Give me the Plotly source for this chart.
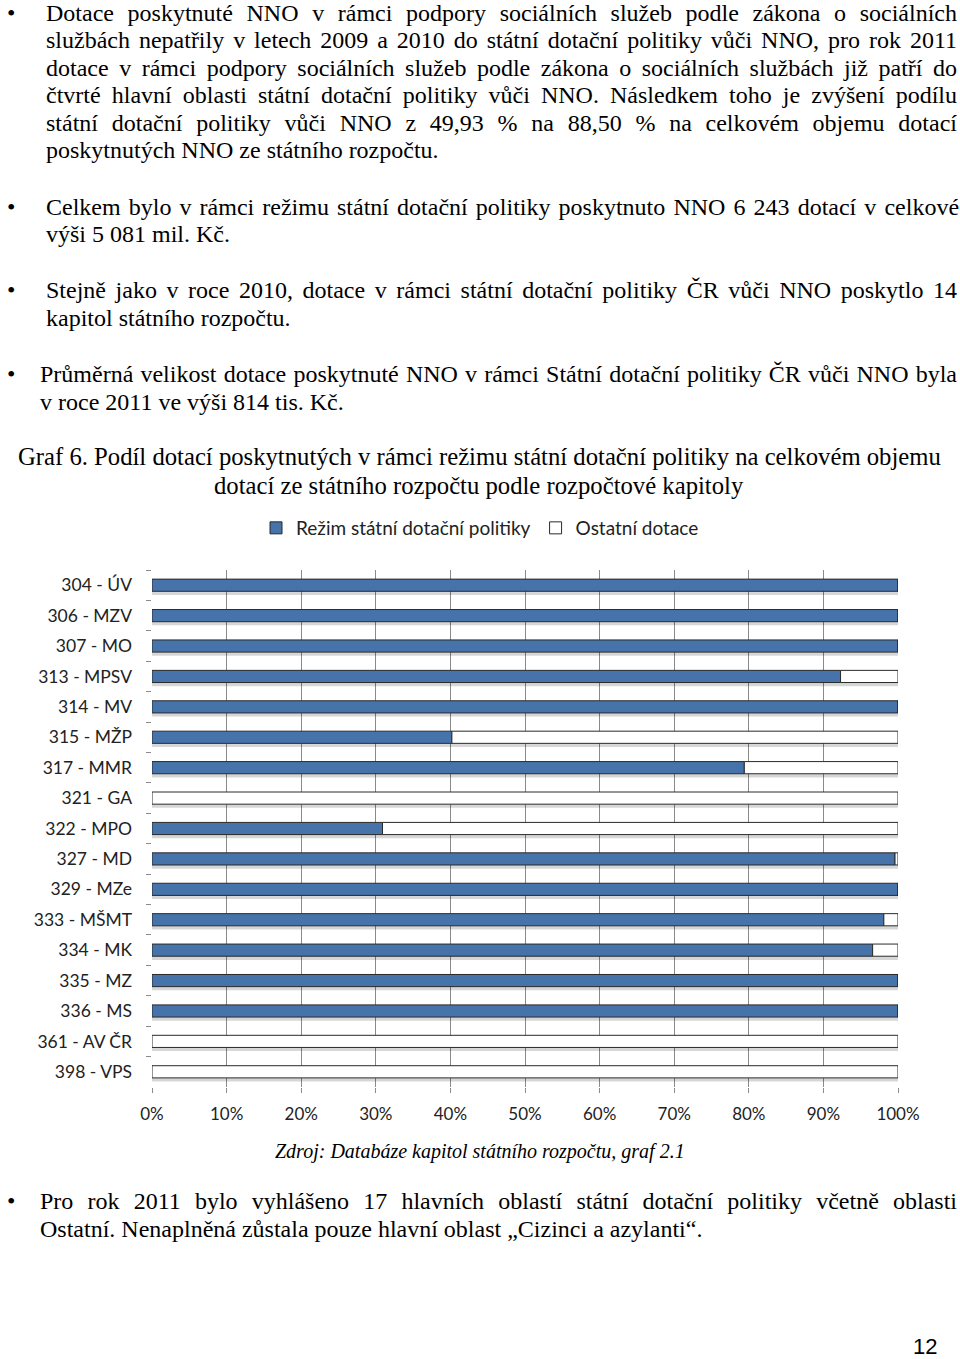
import json
import plotly.graph_objects as go

# ---- data ----
categories = ["304 - ÚV", "306 - MZV", "307 - MO", "313 - MPSV", "314 - MV", "315 - MŽP",
              "317 - MMR", "321 - GA", "322 - MPO", "327 - MD", "329 - MZe", "333 - MŠMT",
              "334 - MK", "335 - MZ", "336 - MS", "361 - AV ČR", "398 - VPS"]
rezim = [100, 100, 100, 92.3, 100, 40.2, 79.4, 0, 30.9, 99.6, 100, 98.1, 96.6, 100, 100, 0, 0]
ostatni = [round(100 - v, 1) for v in rezim]
series_names = ["Režim státní dotační politiky", "Ostatní dotace"]
x_ticks = [0, 10, 20, 30, 40, 50, 60, 70, 80, 90, 100]
x_ticktext = [f"{v}%" for v in x_ticks]

W, H = 960, 1359
L, R, T, B = 152, 898, 570, 1087

def xp(px):
    return (px - L) / (R - L)

def yp(py):
    return (B - py) / (B - T)

BLUE = "#4573AA"
EDGE = "#2a2a2a"
CHART_FONT = "Lato"
BW = 0.4

fig = go.Figure()
# soft drop shadow under each bar (full bar length)
fig.add_trace(go.Bar(y=categories, x=[r + o for r, o in zip(rezim, ostatni)], orientation="h",
                     width=BW, offset=-BW / 2 + 0.12, showlegend=False, hoverinfo="skip",
                     marker=dict(color="rgba(0,0,0,0.16)", line=dict(width=0))))
fig.add_trace(go.Bar(y=categories, x=rezim, orientation="h", name=series_names[0],
                     width=BW, offset=-BW / 2,
                     marker=dict(color=BLUE, line=dict(color=EDGE, width=1))))
fig.add_trace(go.Bar(y=categories, x=ostatni, base=rezim, orientation="h", name=series_names[1],
                     width=BW, offset=-BW / 2,
                     marker=dict(color="white", line=dict(color=EDGE, width=1))))

fig.update_layout(
    width=W, height=H,
    margin=dict(l=L, r=W - R, t=T, b=H - B),
    paper_bgcolor="white", plot_bgcolor="white",
    barmode="overlay",
    font=dict(family=CHART_FONT, size=17, color="#222"),
    showlegend=True,
    legend=dict(orientation="h", x=xp(480), xanchor="center", y=yp(528), yanchor="middle",
                font=dict(family=CHART_FONT, size=19, color="#222"),
                itemwidth=30, traceorder="normal", bgcolor="rgba(0,0,0,0)"),
)
fig.update_xaxes(range=[0, 100], tickmode="array", tickvals=x_ticks, ticktext=x_ticktext,
                 showgrid=True, gridcolor="#8a8a8a", gridwidth=1, zeroline=False, showline=False,
                 ticks="outside", ticklen=5, tickcolor="#8a8a8a", ticklabelstandoff=7,
                 tickfont=dict(family=CHART_FONT, size=17, color="#222"))
fig.update_yaxes(categoryorder="array", categoryarray=categories, autorange="reversed",
                 showgrid=False, zeroline=False, showline=False,
                 ticks="outside", tickson="boundaries", ticklen=5, tickcolor="#8a8a8a",
                 ticklabelstandoff=19,
                 tickfont=dict(family=CHART_FONT, size=17.5, color="#222"))

SERIF = "Liberation Serif"
BODY = 24
justify = {}  # annotation index -> target line width in px

def txt(s, px, py, size=BODY, anchor="left", family=SERIF, italic=False, just_to=None):
    idx = len(fig.layout.annotations)
    fig.add_annotation(text=s, x=xp(px), y=yp(py), xref="paper", yref="paper",
                       xanchor=anchor, yanchor="middle", showarrow=False,
                       align="left" if anchor == "left" else "center",
                       font=dict(family=family, size=size, color="black",
                                 style="italic" if italic else "normal"))
    if just_to is not None:
        justify[str(idx)] = just_to - px

def bullet(py):
    txt("•", 5, py, size=BODY)

RIGHT = 955
body_lines = [
    (44, 13, "Dotace poskytnuté NNO v rámci podpory sociálních služeb podle zákona o sociálních", True),
    (44, 40, "službách nepatřily v letech 2009 a 2010 do státní dotační politiky vůči NNO, pro rok 2011", True),
    (44, 68, "dotace v rámci podpory sociálních služeb podle zákona o sociálních službách již patří do", True),
    (44, 95, "čtvrté hlavní oblasti státní dotační politiky vůči NNO. Následkem toho je zvýšení podílu", True),
    (44, 123, "státní dotační politiky vůči NNO z 49,93 % na 88,50 % na celkovém objemu dotací", True),
    (44, 150, "poskytnutých NNO ze státního rozpočtu.", False),
    (44, 207, "Celkem bylo v rámci režimu státní dotační politiky poskytnuto NNO 6\u00a0243 dotací v celkové", True),
    (44, 234, "výši 5\u00a0081 mil. Kč.", False),
    (44, 290, "Stejně jako v roce 2010, dotace v rámci státní dotační politiky ČR vůči NNO poskytlo 14", True),
    (44, 318, "kapitol státního rozpočtu.", False),
    (38, 374, "Průměrná velikost dotace poskytnuté NNO v rámci Státní dotační politiky ČR vůči NNO byla", True),
    (38, 402, "v roce 2011 ve výši 814 tis. Kč.", False),
    (38, 1201, "Pro rok 2011 bylo vyhlášeno 17 hlavních oblastí státní dotační politiky včetně oblasti", True),
    (38, 1229, "Ostatní. Nenaplněná zůstala pouze hlavní oblast „Cizinci a azylanti“.", False),
]
for px, py, s, j in body_lines:
    txt(s, px, py, just_to=RIGHT if j else None)
for py in [13, 207, 290, 374, 1201]:
    bullet(py)

txt("Graf 6. Podíl dotací poskytnutých v rámci režimu státní dotační politiky na celkovém objemu",
    479, 457, size=24.7, anchor="center")
txt("dotací ze státního rozpočtu podle rozpočtové kapitoly", 479, 485, size=24.7, anchor="center")
txt("Zdroj: Databáze kapitol státního rozpočtu, graf 2.1", 480, 1151, size=20,
    anchor="center", italic=True)
txt("12", 925, 1346, size=22, anchor="center", family="Liberation Sans")

post_js = """
document.body.style.margin='0px';
var gd=document.getElementById('{plot_id}');
var J=%s;
gd.querySelectorAll('g.annotation').forEach(function(g){
  var i=g.getAttribute('data-index');
  if(Object.prototype.hasOwnProperty.call(J,i)){
    var t=g.querySelector('text.annotation-text');
    if(!t) return;
    t.style.wordSpacing='0px';
    var w=t.getComputedTextLength();
    var n=(t.textContent.match(/ /g)||[]).length;
    if(n>0 && J[i]>w){ t.style.wordSpacing=((J[i]-w)/n)+'px'; }
  }
});
""" % json.dumps(justify)

fig.write_html("out.html", post_script=post_js, config={"displayModeBar": False})
